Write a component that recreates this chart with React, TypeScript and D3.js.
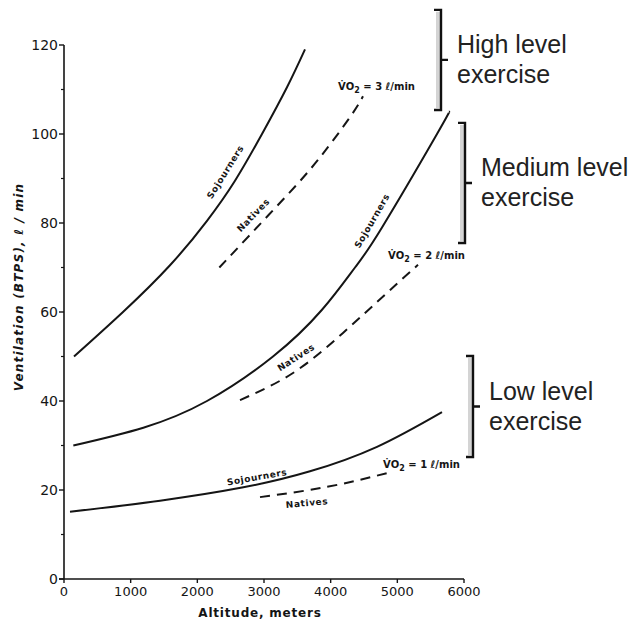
import { useEffect, useRef } from 'react';
import * as d3 from 'd3';

// values (altitude in m, ventilation in l/min)
const highSojAlt = [150, 885, 1590, 2145, 2565, 2970, 3345, 3615];
const highSojVe = [50, 60, 70.5, 80.5, 89.5, 100, 110.5, 119];
const highNatAlt = [2330, 2800, 3300, 3800, 4300, 4485];
const highNatVe = [70, 77.5, 85.5, 94, 104, 108.5];

const medSojAlt = [140, 1190, 2145, 3135, 3870, 4365, 4770, 5595, 5775];
const medSojVe = [30, 34, 40, 50, 60.5, 70, 79, 100, 105];
const medNatAlt = [2640, 3435, 4185, 4845, 5310];
const medNatVe = [40.2, 46.3, 55.3, 64.3, 70.6];

const lowSojAlt = [90, 1440, 2690, 3690, 4695, 5670];
const lowSojVe = [15.1, 17.6, 20.6, 24.2, 29.7, 37.5];
const lowNatAlt = [2940, 3945, 4845];
const lowNatVe = [18.4, 20.7, 23.8];

const xTicks = [0, 1000, 2000, 3000, 4000, 5000, 6000];
const yTicks = [0, 20, 40, 60, 80, 100, 120];
const yMinorTicks = [10, 30, 50, 70, 90, 110];

// curve labels: text, altitude, ventilation, angle
const curveLabels: [string, number, number, number][] = [
  ['Sojourners', 2420, 91.5, -58],
  ['Natives', 2840, 81.8, -46],
  ['Sojourners', 4620, 80.5, -60],
  ['Natives', 3480, 49.8, -33],
  ['Sojourners', 2895, 22.9, -10],
  ['Natives', 3645, 17.1, -5],
];

const vo2Values = ['3', '2', '1'];
const vo2Alt = [4110, 4860, 4785];
const vo2Ve = [110, 72, 25];

const bracketNames = [['High level', 'exercise'], ['Medium level', 'exercise'], ['Low level', 'exercise']];
const bracketTop = [127.9, 102.5, 50.1];
const bracketBottom = [105.4, 75.5, 27.4];
const bracketAlt = [5655, 6015, 6135];

function App() {
  const svgRef = useRef(null);

  useEffect(() => {
    if (!svgRef.current) return;
    const svg = d3.select(svgRef.current);
    svg.selectAll('*').remove();

    const x = d3.scaleLinear().domain([0, 6000]).range([64, 464]);
    const y = d3.scaleLinear().domain([0, 120]).range([579, 45]);
    const ink = '#151515';
    const numFont = '"DejaVu Sans", sans-serif';

    // axes
    svg.append('line').attr('x1', x(0)).attr('x2', x(0)).attr('y1', y(120)).attr('y2', y(0))
      .attr('stroke', ink).attr('stroke-width', 1.6);
    svg.append('line').attr('x1', x(0) - 5).attr('x2', x(6000)).attr('y1', y(0)).attr('y2', y(0))
      .attr('stroke', ink).attr('stroke-width', 1.6);

    yTicks.forEach(t => {
      svg.append('line').attr('x1', x(0) - 5).attr('x2', x(0)).attr('y1', y(t)).attr('y2', y(t))
        .attr('stroke', ink).attr('stroke-width', 1.4);
      svg.append('text').attr('x', x(0) - 6).attr('y', y(t) + 5)
        .attr('text-anchor', 'end').attr('font-family', numFont).attr('font-size', 14)
        .attr('fill', ink).text(t);
    });
    yMinorTicks.forEach(t => {
      svg.append('line').attr('x1', x(0) - 3).attr('x2', x(0)).attr('y1', y(t)).attr('y2', y(t))
        .attr('stroke', ink).attr('stroke-width', 1.2);
    });
    xTicks.forEach(t => {
      svg.append('line').attr('x1', x(t)).attr('x2', x(t)).attr('y1', y(0)).attr('y2', y(0) + 4)
        .attr('stroke', ink).attr('stroke-width', 1.4);
      svg.append('text').attr('x', x(t)).attr('y', y(0) + 17)
        .attr('text-anchor', 'middle').attr('font-family', numFont).attr('font-size', 13)
        .attr('fill', ink).text(t);
    });

    svg.append('text').attr('x', 260).attr('y', 617).attr('text-anchor', 'middle')
      .attr('font-family', numFont).attr('font-size', 12).attr('font-weight', 'bold')
      .attr('letter-spacing', 0.8).attr('fill', ink).text('Altitude, meters');

    svg.append('text').attr('transform', 'translate(23,287) rotate(-90)').attr('text-anchor', 'middle')
      .attr('font-family', numFont).attr('font-size', 12).attr('font-weight', 'bold')
      .attr('font-style', 'italic').attr('letter-spacing', 1.2).attr('fill', ink)
      .text('Ventilation (BTPS), ℓ / min');

    // curves
    const line = d3.line<[number, number]>().x(d => x(d[0])).y(d => y(d[1]))
      .curve(d3.curveNatural);
    const series: [number[], number[], boolean][] = [
      [highSojAlt, highSojVe, false], [highNatAlt, highNatVe, true],
      [medSojAlt, medSojVe, false], [medNatAlt, medNatVe, true],
      [lowSojAlt, lowSojVe, false], [lowNatAlt, lowNatVe, true],
    ];
    series.forEach(([alts, ves, dashed]) => {
      svg.append('path').datum(alts.map((a, i) => [a, ves[i]] as [number, number]))
        .attr('d', line).attr('fill', 'none').attr('stroke', ink)
        .attr('stroke-width', 2).attr('stroke-dasharray', dashed ? '10,7' : null);
    });

    curveLabels.forEach(([txt, a, v, ang]) => {
      svg.append('text').attr('transform', `translate(${x(a)},${y(v)}) rotate(${ang})`)
        .attr('text-anchor', 'middle').attr('dy', '0.35em')
        .attr('font-family', numFont).attr('font-size', 9).attr('font-weight', 'bold')
        .attr('letter-spacing', 0.6).attr('fill', ink).text(txt);
    });

    vo2Values.forEach((val, i) => {
      const t = svg.append('text').attr('x', x(vo2Alt[i])).attr('y', y(vo2Ve[i]))
        .attr('font-family', numFont).attr('font-size', 10).attr('font-weight', 'bold').attr('fill', ink);
      t.append('tspan').text('V̇O');
      t.append('tspan').attr('dy', 3).attr('font-size', 8).text('2');
      t.append('tspan').attr('dy', -3).text(` = ${val} ℓ/min`);
    });

    // brackets on the right
    bracketNames.forEach((lines, i) => {
      const bx = x(bracketAlt[i]);
      const top = y(bracketTop[i]);
      const bot = y(bracketBottom[i]);
      const mid = (top + bot) / 2;
      svg.append('rect').attr('x', bx - 5).attr('y', top + 2).attr('width', 4).attr('height', bot - top - 4)
        .attr('fill', '#d4d4d4');
      svg.append('path').attr('d', `M${bx - 7},${top}H${bx}V${bot}H${bx - 7}M${bx},${mid}H${bx + 7}`)
        .attr('fill', 'none').attr('stroke', '#111').attr('stroke-width', 2.4);
      lines.forEach((l, j) => {
        svg.append('text').attr('x', bx + 16).attr('y', mid - 7 + j * 30)
          .attr('font-family', '"Liberation Sans", Arial, sans-serif').attr('font-size', 25)
          .attr('fill', '#222').text(l);
      });
    });

    return () => { d3.select(svgRef.current).selectAll('*').remove(); };
  }, []);

  return (
    <svg ref={svgRef} width={639} height={627}
      style={{ position: 'absolute', left: 0, top: 0, background: '#fff' }} />
  );
}

export default App;
